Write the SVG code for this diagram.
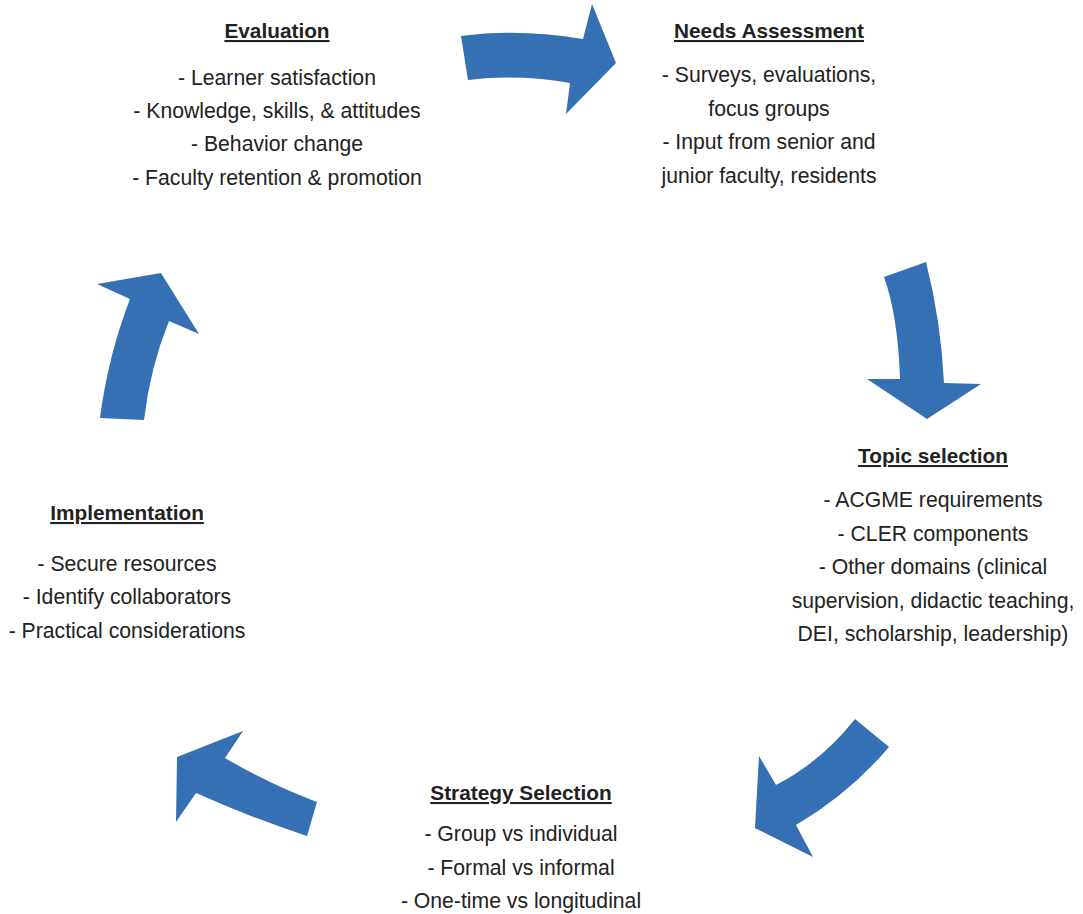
<svg xmlns="http://www.w3.org/2000/svg" width="1083" height="914" viewBox="0 0 1083 914">
<style>
.h{font-family:"Liberation Sans",Arial,sans-serif;font-size:20.8px;font-weight:bold;fill:#222;text-anchor:middle;text-decoration:underline}
.t{font-family:"Liberation Sans",Arial,sans-serif;font-size:21.2px;fill:#222;text-anchor:middle}
.a{fill:#3570B4}
</style>
<rect width="1083" height="914" fill="#fff"/>
<g id="connectors">
<path class="a" d="M461,36 Q517,28 583,39 L592,4 L616,63 L566,114 L570,83 Q517,74 468,80 Z"/>
<path class="a" d="M884,277 L926,262 Q941,321 944,383 L981,384 L927,419 L867,379 L900,379 Q898,316 884,277 Z"/>
<path class="a" d="M855,719 L889,747 Q849,794 796,825 L813,857 L755,828 L759,756 L776,785 Q821,762 855,719 Z"/>
<path class="a" d="M317,802 L307,836 Q252,818 196,793 L176,822 L177,757 L243,731 L225,758 Q269,784 317,802 Z"/>
<path class="a" d="M100,418 L144,420 Q150,368 169,321 L199,334 L161,273 L97,284 L130,299 Q108,356 100,418 Z"/>
</g>
<g id="evaluation">
<text class="h" x="277" y="38">Evaluation</text>
<text class="t" x="277" y="85">- Learner satisfaction</text>
<text class="t" x="277" y="118">- Knowledge, skills, &amp; attitudes</text>
<text class="t" x="277" y="151">- Behavior change</text>
<text class="t" x="277" y="185">- Faculty retention &amp; promotion</text>
</g>
<g id="needs">
<text class="h" x="769" y="38">Needs Assessment</text>
<text class="t" x="769" y="82">- Surveys, evaluations,</text>
<text class="t" x="769" y="116">focus groups</text>
<text class="t" x="769" y="149">- Input from senior and</text>
<text class="t" x="769" y="183">junior faculty, residents</text>
</g>
<g id="topic">
<text class="h" x="933" y="463">Topic selection</text>
<text class="t" x="933" y="507">- ACGME requirements</text>
<text class="t" x="933" y="541">- CLER components</text>
<text class="t" x="933" y="574">- Other domains (clinical</text>
<text class="t" x="933" y="608">supervision, didactic teaching,</text>
<text class="t" x="933" y="641">DEI, scholarship, leadership)</text>
</g>
<g id="strategy">
<text class="h" x="521" y="800">Strategy Selection</text>
<text class="t" x="521" y="841">- Group vs individual</text>
<text class="t" x="521" y="875">- Formal vs informal</text>
<text class="t" x="521" y="908">- One-time vs longitudinal</text>
</g>
<g id="implementation">
<text class="h" x="127" y="520">Implementation</text>
<text class="t" x="127" y="571">- Secure resources</text>
<text class="t" x="127" y="604">- Identify collaborators</text>
<text class="t" x="127" y="638">- Practical considerations</text>
</g>
</svg>
